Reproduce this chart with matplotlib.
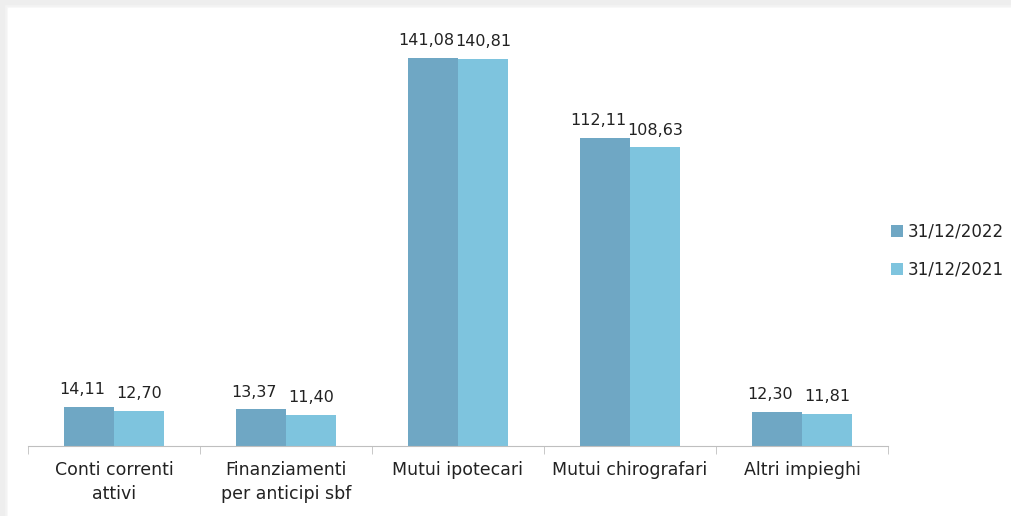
#bar chart - impieghi per forma tecnica

#import required libraries
import numpy as np
import matplotlib.pyplot as plt
from matplotlib.patches import Rectangle

#data
categories = ["Conti correnti\nattivi", "Finanziamenti\nper anticipi sbf",
              "Mutui ipotecari", "Mutui chirografari", "Altri impieghi"]
vals_2022 = [14.11, 13.37, 141.08, 112.11, 12.30]
vals_2021 = [12.70, 11.40, 140.81, 108.63, 11.81]
series_names = ["31/12/2022", "31/12/2021"]

col_2022 = "#6FA7C4"
col_2021 = "#7EC4DE"

def fmt(v):
    return f"{v:.2f}".replace(".", ",")

fig = plt.figure(figsize=(10.11, 5.16), dpi=100)

#light shadow on top and left edges
for i, c in enumerate(["#F8F8F8", "#F3F3F3", "#EEEEEE"]):
    d = 8 - i * 2
    fig.patches.append(Rectangle((0, 1 - d / 516), 1, d / 516, transform=fig.transFigure,
                                 color=c, zorder=-3 + i * 0.1))
    fig.patches.append(Rectangle((0, 0), d / 1011, 1, transform=fig.transFigure,
                                 color=c, zorder=-3 + i * 0.1))
fig.patches.append(Rectangle((8 / 1011, 0), 1, 1 - 8 / 516, transform=fig.transFigure,
                             color="white", zorder=-1))

ax = fig.add_axes([28 / 1011, 70 / 516, 860 / 1011, 412.5 / 516])
ax.patch.set_alpha(0)
ax.set_zorder(1)

x = np.arange(len(categories))
w = 0.29
b1 = ax.bar(x - w / 2, vals_2022, w, color=col_2022, label=series_names[0])
b2 = ax.bar(x + w / 2, vals_2021, w, color=col_2021, label=series_names[1])

#data labels, first series nudged left like the original
for bars, vals, dx in [(b1, vals_2022, -5), (b2, vals_2021, 0)]:
    for r, v in zip(bars, vals):
        ax.annotate(fmt(v), (r.get_x() + r.get_width() / 2, r.get_height()),
                    xytext=(dx, 7), textcoords="offset points",
                    ha="center", va="bottom", fontsize=11.5, color="#222222")

ax.set_xlim(-0.5, len(categories) - 0.5)
ax.set_ylim(0, 150)

for s in ["top", "right", "left"]:
    ax.spines[s].set_visible(False)
ax.spines["bottom"].set_color("#BFBFBF")
ax.set_yticks([])

ax.set_xticks(x)
ax.set_xticklabels(categories, fontsize=12.5, color="#222222", linespacing=1.4)
ax.tick_params(axis="x", which="major", length=0, pad=11)
ax.set_xticks(np.arange(len(categories) + 1) - 0.5, minor=True)
ax.tick_params(axis="x", which="minor", length=6, color="#BFBFBF")

leg = fig.legend(loc="center left", bbox_to_anchor=(876 / 1011, 1 - 251 / 516),
                 frameon=False, fontsize=12, handlelength=0.7, handleheight=0.7,
                 handletextpad=0.3, labelspacing=1.2)
for t in leg.get_texts():
    t.set_color("#222222")

plt.savefig("out.png", dpi=100)
